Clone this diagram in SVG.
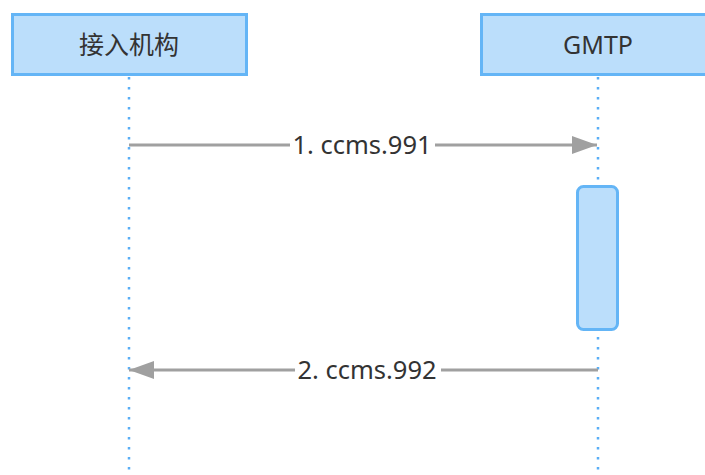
<svg xmlns="http://www.w3.org/2000/svg" width="705" height="475" viewBox="0 0 705 475">
<defs>
<style>
.box{fill:#bbdefb;stroke:#64b5f6;stroke-width:3}
.life{stroke:#5aaef5;stroke-width:2.5;stroke-dasharray:2.5 7.5;fill:none}
.msg{stroke:#a0a0a0;stroke-width:3;fill:none}
.t{font-family:"Noto Sans","Noto Sans CJK SC",sans-serif;font-size:25px;fill:#333;text-anchor:middle}
.lbl{font-family:"Noto Sans","Noto Sans CJK SC",sans-serif;font-size:25.5px;fill:#333;text-anchor:middle}
</style>
<marker id="ah" markerWidth="26" markerHeight="18" refX="25" refY="9" orient="auto" markerUnits="userSpaceOnUse">
<path d="M0,0 L25,9 L0,18 Z" fill="#a0a0a0"/>
</marker>
</defs>
<rect width="705" height="475" fill="#fff"/>
<g id="lifelines">
<line class="life" x1="129" y1="77" x2="129" y2="475"/>
<line class="life" x1="598" y1="77" x2="598" y2="475"/>
</g>
<g id="node-jieru">
<rect class="box" x="12.5" y="14.5" width="234" height="60"/>
<text class="t" x="129" y="54">接入机构</text>
</g>
<g id="node-gmtp">
<rect class="box" x="481.5" y="14.5" width="234" height="60"/>
<text class="t" x="598" y="54">GMTP</text>
</g>
<g id="activation">
<rect class="box" x="577.5" y="186.5" width="40" height="143" rx="6"/>
</g>
<g id="connectors">
<line class="msg" x1="129" y1="145" x2="290" y2="145"/>
<line class="msg" x1="435" y1="145" x2="597" y2="145" marker-end="url(#ah)"/>
<text class="lbl" x="362" y="154">1. ccms.991</text>
<line class="msg" x1="598" y1="370" x2="441" y2="370"/>
<line class="msg" x1="295" y1="370" x2="129" y2="370" marker-end="url(#ah)"/>
<text class="lbl" x="367" y="379">2. ccms.992</text>
</g>
</svg>
